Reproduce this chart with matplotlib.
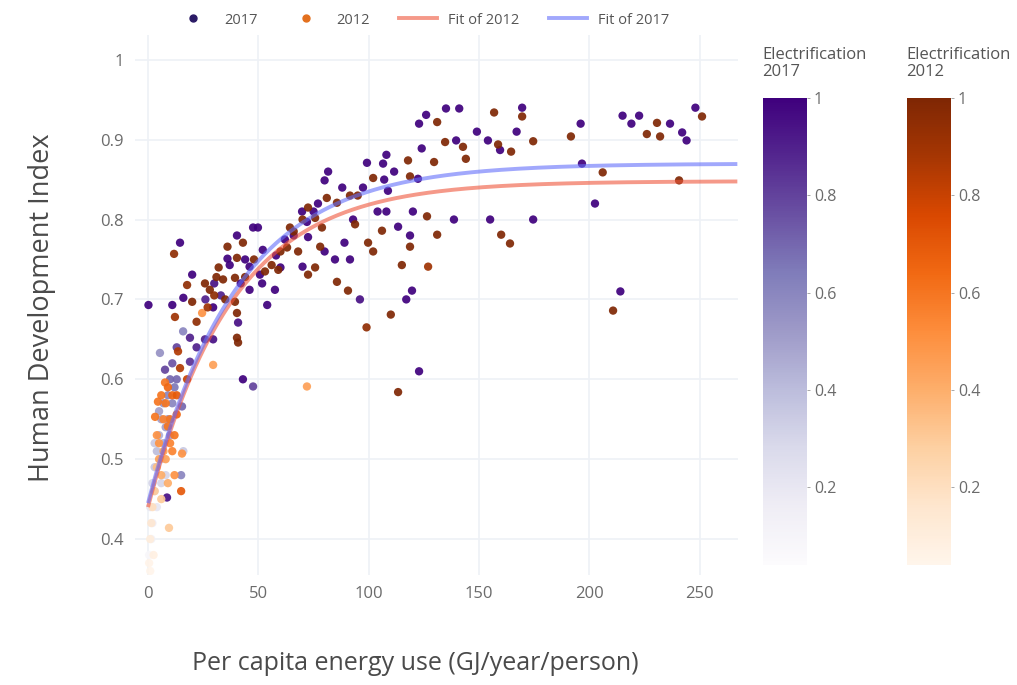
import numpy as np
import matplotlib
matplotlib.use("Agg")
import matplotlib.pyplot as plt
from matplotlib.colors import Normalize
from matplotlib.lines import Line2D
from matplotlib import cm

# ---------------- data ----------------
# 2017: per-capita energy use (GJ/yr/person), HDI, electrification share
energy_2017 = [215, 222.5, 219, 236.5, 248, 242, 244, 196, 196.6, 202.5, 174.5, 214, 169.5, 167,
               154, 159.5, 149, 135, 141, 126, 122.8, 139.6, 124, 108, 106.5, 99.2, 111.5, 107,
               122.3, 88, 97.4, 108.7, 81.6, 104, 108, 120, 138.6, 155, 92.9, 113.3, 118.7, 89,
               84.7, 91.5, 96, 119.6, 117, 122.8,
               80, 69.8, 72, 47.6, 49.8, 72.5, 40.3, 80, 52, 14.5, 36, 37, 46, 50.7, 70, 20,
               51.7, 46, 57.5, 0.2, 11, 16, 29.5, 54, 40.8, 15.9, 19, 25.8, 29.5, 22, 5.4, 19,
               7.7, 43, 47.6, 15.4, 15, 8.6,
               30, 33, 26, 42, 44, 58, 62, 66, 75, 77, 60,
               2, 3, 4, 5, 6, 7, 9, 10, 11, 12, 6, 8, 1, 2, 1.5, 3, 0.5, 4, 8, 13, 16,
               5, 7, 9, 11, 3, 6, 10, 13]
hdi_2017 = [0.930, 0.930, 0.920, 0.920, 0.940, 0.909, 0.899, 0.920, 0.870, 0.820, 0.800, 0.710, 0.940, 0.910,
            0.899, 0.887, 0.910, 0.939, 0.939, 0.931, 0.920, 0.899, 0.889, 0.881, 0.870, 0.871, 0.860, 0.850,
            0.851, 0.840, 0.840, 0.836, 0.860, 0.810, 0.810, 0.810, 0.800, 0.800, 0.800, 0.791, 0.780, 0.771,
            0.750, 0.750, 0.700, 0.711, 0.700, 0.610,
            0.849, 0.810, 0.797, 0.790, 0.790, 0.778, 0.780, 0.760, 0.762, 0.771, 0.751, 0.743, 0.741, 0.731, 0.741, 0.731,
            0.720, 0.712, 0.712, 0.693, 0.693, 0.702, 0.690, 0.693, 0.671, 0.660, 0.652, 0.650, 0.650, 0.640, 0.633, 0.622,
            0.612, 0.600, 0.591, 0.566, 0.480, 0.452,
            0.720, 0.705, 0.700, 0.720, 0.750, 0.755, 0.775, 0.780, 0.810, 0.820, 0.740,
            0.470, 0.490, 0.510, 0.530, 0.550, 0.570, 0.580, 0.600, 0.620, 0.590, 0.500, 0.540, 0.440, 0.420, 0.400, 0.460, 0.380, 0.440, 0.480, 0.640, 0.510,
            0.560, 0.520, 0.550, 0.570, 0.520, 0.470, 0.530, 0.600]
elec_2017 = [1, 1, 1, 1, 1, 1, 1, 1, 1, 1, 1, 1, 1, 1,
             1, 1, 1, 1, 1, 1, 1, 1, 1, 1, 1, 1, 1, 1,
             1, 1, 1, 1, 1, 1, 1, 1, 1, 1, 1, 1, 1, 1,
             1, 1, 0.95, 1, 1, 1,
             1, 1, 1, 1, 1, 1, 1, 1, 1, 1, 1, 1, 1, 1, 1, 1,
             1, 1, 1, 1, 1, 1, 1, 1, 0.95, 0.6, 0.9, 0.9, 0.95, 0.9, 0.55, 0.85,
             0.8, 1, 0.8, 0.7, 0.6, 0.95,
             0.95, 0.9, 0.9, 1, 1, 1, 1, 1, 1, 1, 1,
             0.3, 0.35, 0.4, 0.45, 0.5, 0.55, 0.6, 0.7, 0.75, 0.65, 0.35, 0.5, 0.2, 0.15, 0.12, 0.25, 0.08, 0.2, 0.3, 0.8, 0.35,
             0.5, 0.45, 0.55, 0.6, 0.35, 0.3, 0.5, 0.7]

energy_2012 = [230.6, 226, 232, 251, 191.6, 174.5, 206, 240.6, 210.7, 156.8, 169.5, 131, 134.6, 142.7,
               158.6, 164.5, 144, 117.8, 129.6, 102, 118.7, 91.5, 95, 85.6, 126.4, 93.8, 106, 131,
               160, 164, 99.7, 102, 118.7, 115, 126.9, 85.6, 90.6, 110, 99, 113.3, 72,
               81, 72.5, 75.7, 78.8, 64.3, 78, 43, 36, 63, 68, 11.8, 40.3, 56, 59, 75.7, 72.5,
               17.7, 31, 34, 39.4, 44, 25.8, 28, 20, 39.4, 12.2, 22, 24.5, 40.3, 40.3, 40.8,
               13.6, 14.5, 29.5, 17.7, 7.7, 4.5, 3.2, 13, 9, 15, 9.5, 15.4,
               32, 30, 48, 53, 60, 66, 70, 27, 35,
               5, 7, 8, 6, 10, 11, 4, 3, 2, 1.5, 1, 0.5, 2.5, 12, 9, 6, 1,
               4, 6, 8, 10, 11, 13, 7, 5, 9, 12]
hdi_2012 = [0.921, 0.907, 0.904, 0.929, 0.904, 0.898, 0.859, 0.849, 0.686, 0.934, 0.929, 0.922, 0.897, 0.891,
            0.894, 0.885, 0.876, 0.874, 0.872, 0.852, 0.854, 0.830, 0.830, 0.821, 0.804, 0.794, 0.786, 0.781,
            0.781, 0.770, 0.771, 0.760, 0.766, 0.743, 0.741, 0.722, 0.711, 0.681, 0.665, 0.584, 0.591,
            0.827, 0.815, 0.802, 0.790, 0.790, 0.766, 0.771, 0.766, 0.765, 0.760, 0.757, 0.752, 0.743, 0.737, 0.740, 0.731,
            0.718, 0.728, 0.725, 0.727, 0.728, 0.720, 0.712, 0.697, 0.697, 0.678, 0.672, 0.683, 0.683, 0.652, 0.646,
            0.635, 0.614, 0.618, 0.600, 0.596, 0.572, 0.553, 0.556, 0.541, 0.460, 0.414, 0.507,
            0.740, 0.705, 0.750, 0.735, 0.760, 0.785, 0.800, 0.690, 0.700,
            0.520, 0.550, 0.500, 0.480, 0.520, 0.580, 0.490, 0.460, 0.440, 0.420, 0.400, 0.370, 0.380, 0.530, 0.470, 0.450, 0.360,
            0.530, 0.580, 0.570, 0.550, 0.510, 0.580, 0.510, 0.500, 0.590, 0.480]
elec_2012 = [1, 1, 1, 1, 1, 1, 1, 1, 1, 1, 1, 1, 1, 1,
             1, 1, 1, 1, 1, 1, 1, 1, 1, 1, 1, 1, 1, 1,
             1, 1, 1, 1, 1, 1, 0.9, 1, 1, 1, 0.95, 1, 0.45,
             1, 1, 1, 1, 1, 1, 1, 1, 1, 1, 0.95, 1, 1, 1, 1, 1,
             0.95, 1, 1, 1, 1, 1, 1, 1, 1, 0.9, 0.95, 0.5, 1, 1, 1,
             0.85, 0.85, 0.45, 0.8, 0.6, 0.6, 0.6, 0.65, 0.6, 0.7, 0.3, 0.5,
             1, 0.95, 1, 1, 1, 1, 1, 0.9, 1,
             0.5, 0.55, 0.45, 0.4, 0.55, 0.65, 0.35, 0.3, 0.2, 0.15, 0.1, 0.05, 0.08, 0.6, 0.4, 0.3, 0.04,
             0.5, 0.6, 0.6, 0.6, 0.55, 0.7, 0.45, 0.45, 0.65, 0.5]

# fitted saturating curves  y = a - b * exp(-x / c)
fit_2012 = dict(a=0.848, b=0.408, c=38.0)
fit_2017 = dict(a=0.870, b=0.425, c=40.0)
fit_x_range = (0, 267)

x_ticks = [0, 50, 100, 150, 200, 250]
y_ticks = [0.4, 0.5, 0.6, 0.7, 0.8, 0.9, 1.0]
y_tick_labels = ["0.4", "0.5", "0.6", "0.7", "0.8", "0.9", "1"]
cb_ticks = [0.2, 0.4, 0.6, 0.8, 1.0]
cb_tick_labels = ["0.2", "0.4", "0.6", "0.8", "1"]

# ---------------- figure ----------------
plt.rcParams['font.family'] = ['Open Sans', 'DejaVu Sans']
W, H = 1017, 685
fig = plt.figure(figsize=(W / 100, H / 100), dpi=100)

def box(l, t, r, b):
    return [l / W, 1 - b / H, (r - l) / W, (b - t) / H]

ax = fig.add_axes(box(135, 35, 738, 575))
ax.set_facecolor('white')

all_e = elec_2017 + elec_2012
norm = Normalize(vmin=min(all_e), vmax=max(all_e))
cmap17 = plt.get_cmap('Purples')
cmap12 = plt.get_cmap('Oranges')

ax.scatter(energy_2017, hdi_2017, c=elec_2017, cmap=cmap17, norm=norm, s=36,
           linewidths=0, alpha=0.92, zorder=3)
ax.scatter(energy_2012, hdi_2012, c=elec_2012, cmap=cmap12, norm=norm, s=36,
           linewidths=0, alpha=0.92, zorder=4)

xf = np.linspace(fit_x_range[0], fit_x_range[1], 300)
y12 = fit_2012['a'] - fit_2012['b'] * np.exp(-xf / fit_2012['c'])
y17 = fit_2017['a'] - fit_2017['b'] * np.exp(-xf / fit_2017['c'])
ax.plot(xf, y12, color='#EF553B', alpha=0.6, lw=2.8, zorder=5, solid_capstyle='butt')
ax.plot(xf, y17, color='#636efa', alpha=0.6, lw=2.8, zorder=6, solid_capstyle='butt')

ax.set_xlim(-5.9, 267.3)
ax.set_ylim(0.355, 1.031)
ax.set_xticks(x_ticks)
ax.set_xticklabels([str(t) for t in x_ticks])
ax.set_yticks(y_ticks)
ax.set_yticklabels(y_tick_labels)
ax.grid(True, color='#eef1f6', lw=1.2, zorder=0)
ax.set_axisbelow(True)
for s in ax.spines.values():
    s.set_visible(False)
ax.tick_params(length=0, labelsize=12, labelcolor='#6b6b6b', pad=8)

fig.text(415 / W, 1 - 663 / H, "Per capita energy use (GJ/year/person)",
         ha='center', va='center', fontsize=18, color='#4a4a4a')
fig.text(42 / W, 1 - 308 / H, "Human Development Index", rotation=90,
         ha='center', va='center', fontsize=19.5, color='#4a4a4a')

# colorbars
for left, cmap, title in [(763, cmap17, "Electrification\n2017"),
                          (907, cmap12, "Electrification\n2012")]:
    cax = fig.add_axes(box(left, 98, left + 44, 565))
    sm = cm.ScalarMappable(norm=norm, cmap=cmap)
    cb = fig.colorbar(sm, cax=cax)
    cb.outline.set_visible(False)
    cb.set_ticks(cb_ticks)
    cb.set_ticklabels(cb_tick_labels)
    cax.tick_params(length=2, width=0.6, color='#999999', labelsize=11.5,
                    labelcolor='#6b6b6b', pad=3)
    fig.text((left - 1) / W, 1 - 47 / H, title, ha='left', va='top',
             fontsize=12, color='#555555', linespacing=1.05)

# legend
handles = [
    Line2D([], [], ls='', marker='o', ms=5, color='#2b1b66'),
    Line2D([], [], ls='', marker='o', ms=5, color='#e3701e'),
    Line2D([], [], color='#EF553B', alpha=0.6, lw=2.8),
    Line2D([], [], color='#636efa', alpha=0.6, lw=2.8),
]
labels = ["2017", "2012", "Fit of 2012", "Fit of 2017"]
fig.legend(handles, labels, loc='center', bbox_to_anchor=(422 / W, 1 - 20 / H),
           ncol=4, frameon=False, fontsize=10.5, handlelength=2.6,
           columnspacing=2.0, labelcolor='#555555')

fig.savefig("out.png", dpi=100, facecolor='white')
